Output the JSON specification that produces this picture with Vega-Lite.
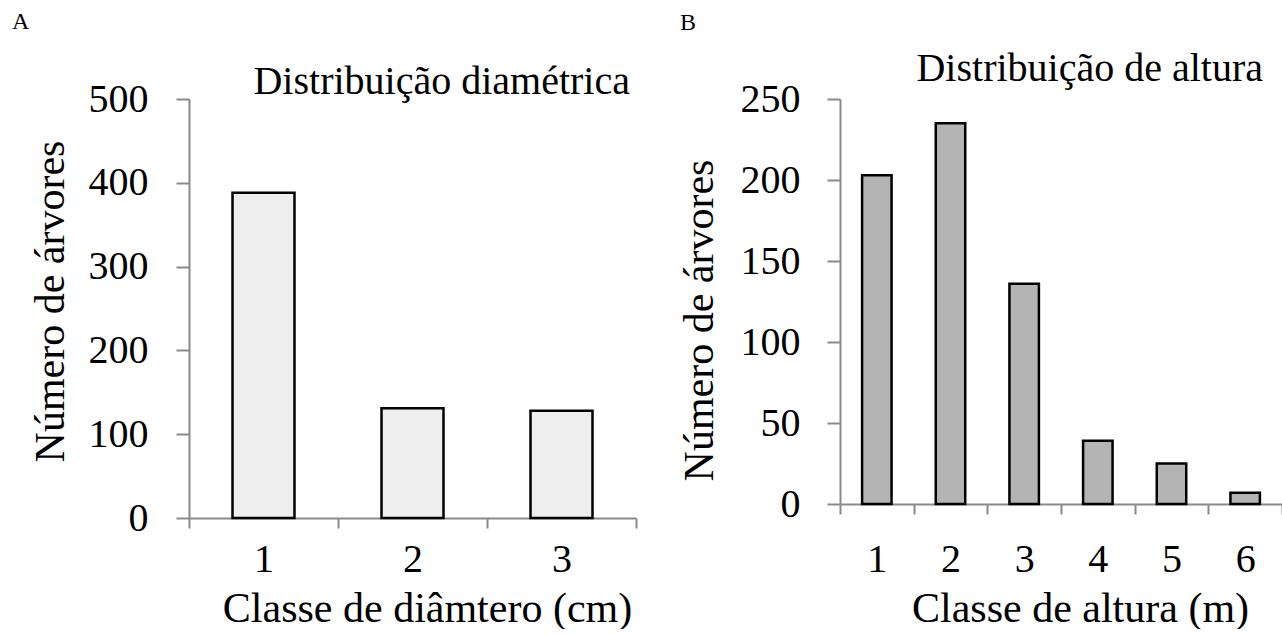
{
  "$schema": "https://vega.github.io/schema/vega-lite/v6.json",
  "background": "white",
  "padding": {"left": 12, "top": 10, "right": 0, "bottom": 0},
  "autosize": {"type": "pad"},
  "bounds": "flush",
  "spacing": 204,
  "config": {
    "font": "Liberation Serif",
    "view": {"stroke": null},
    "axis": {
      "domainColor": "#8a8a8a", "domainWidth": 2,
      "tickColor": "#8a8a8a", "tickWidth": 2,
      "grid": false,
      "labelFont": "Liberation Serif", "titleFont": "Liberation Serif",
      "labelColor": "black", "titleColor": "black",
      "labelFontSize": 40, "titleFontSize": 42, "titleFontWeight": "normal"
    },
    "title": {"font": "Liberation Serif", "fontSize": 24, "fontWeight": "normal", "anchor": "start", "color": "black", "frame": "group"}
  },
  "hconcat": [
    {
      "width": 447,
      "height": 419,
      "title": {"text": "A", "dx": -177, "dy": -24},
      "layer": [
        {
          "data": {"values": [
            {"classe": "1", "arvores": 388},
            {"classe": "2", "arvores": 131},
            {"classe": "3", "arvores": 128}
          ]},
          "mark": {"type": "bar", "width": {"band": 0.416}, "fill": "#eeeeee", "stroke": "black", "strokeWidth": 2.5},
          "encoding": {
            "x": {
              "field": "classe", "type": "ordinal",
              "scale": {"paddingInner": 0, "paddingOuter": 0},
              "axis": {"title": "Classe de diâmtero (cm)", "labelAngle": 0, "tickBand": "extent", "tickSize": 10,
                       "labelPadding": 43, "labelBaseline": "alphabetic",
                       "titleX": 238, "titleY": 103, "titleBaseline": "alphabetic"}
            },
            "y": {
              "field": "arvores", "type": "quantitative",
              "scale": {"domain": [0, 500], "nice": false},
              "axis": {"title": "Número de árvores", "values": [0, 100, 200, 300, 400, 500], "tickSize": 13,
                       "labelPadding": 28, "labelFlush": false,
                       "titleX": -139, "titleY": 202, "titleBaseline": "middle"}
            }
          }
        },
        {
          "data": {"values": [{"heading": "Distribuição diamétrica"}]},
          "mark": {"type": "text", "align": "right", "baseline": "alphabetic", "fontSize": 40, "font": "Liberation Serif", "color": "black", "dx": -6, "dy": -5},
          "encoding": {
            "text": {"field": "heading"},
            "x": {"value": "width"},
            "y": {"datum": 500}
          }
        }
      ]
    },
    {
      "width": 442,
      "height": 405,
      "title": {"text": "B", "dx": -160, "dy": -10},
      "layer": [
        {
          "data": {"values": [
            {"classe": "1", "arvores": 203},
            {"classe": "2", "arvores": 235},
            {"classe": "3", "arvores": 136},
            {"classe": "4", "arvores": 39},
            {"classe": "5", "arvores": 25},
            {"classe": "6", "arvores": 7}
          ]},
          "mark": {"type": "bar", "width": {"band": 0.4}, "fill": "#b4b4b4", "stroke": "black", "strokeWidth": 2.5},
          "encoding": {
            "x": {
              "field": "classe", "type": "ordinal",
              "scale": {"paddingInner": 0, "paddingOuter": 0},
              "axis": {"title": "Classe de altura (m)", "labelAngle": 0, "tickBand": "extent", "tickSize": 10,
                       "labelPadding": 57, "labelBaseline": "alphabetic",
                       "titleX": 240, "titleY": 117, "titleBaseline": "alphabetic"}
            },
            "y": {
              "field": "arvores", "type": "quantitative",
              "scale": {"domain": [0, 250], "nice": false},
              "axis": {"title": "Número de árvores", "values": [0, 50, 100, 150, 200, 250], "tickSize": 13,
                       "labelPadding": 27, "labelFlush": false,
                       "titleX": -141, "titleY": 221, "titleBaseline": "middle"}
            }
          }
        },
        {
          "data": {"values": [{"heading": "Distribuição de altura"}]},
          "mark": {"type": "text", "align": "right", "baseline": "alphabetic", "fontSize": 40, "font": "Liberation Serif", "color": "black", "dx": -19, "dy": -18},
          "encoding": {
            "text": {"field": "heading"},
            "x": {"value": "width"},
            "y": {"datum": 250}
          }
        }
      ]
    }
  ]
}
